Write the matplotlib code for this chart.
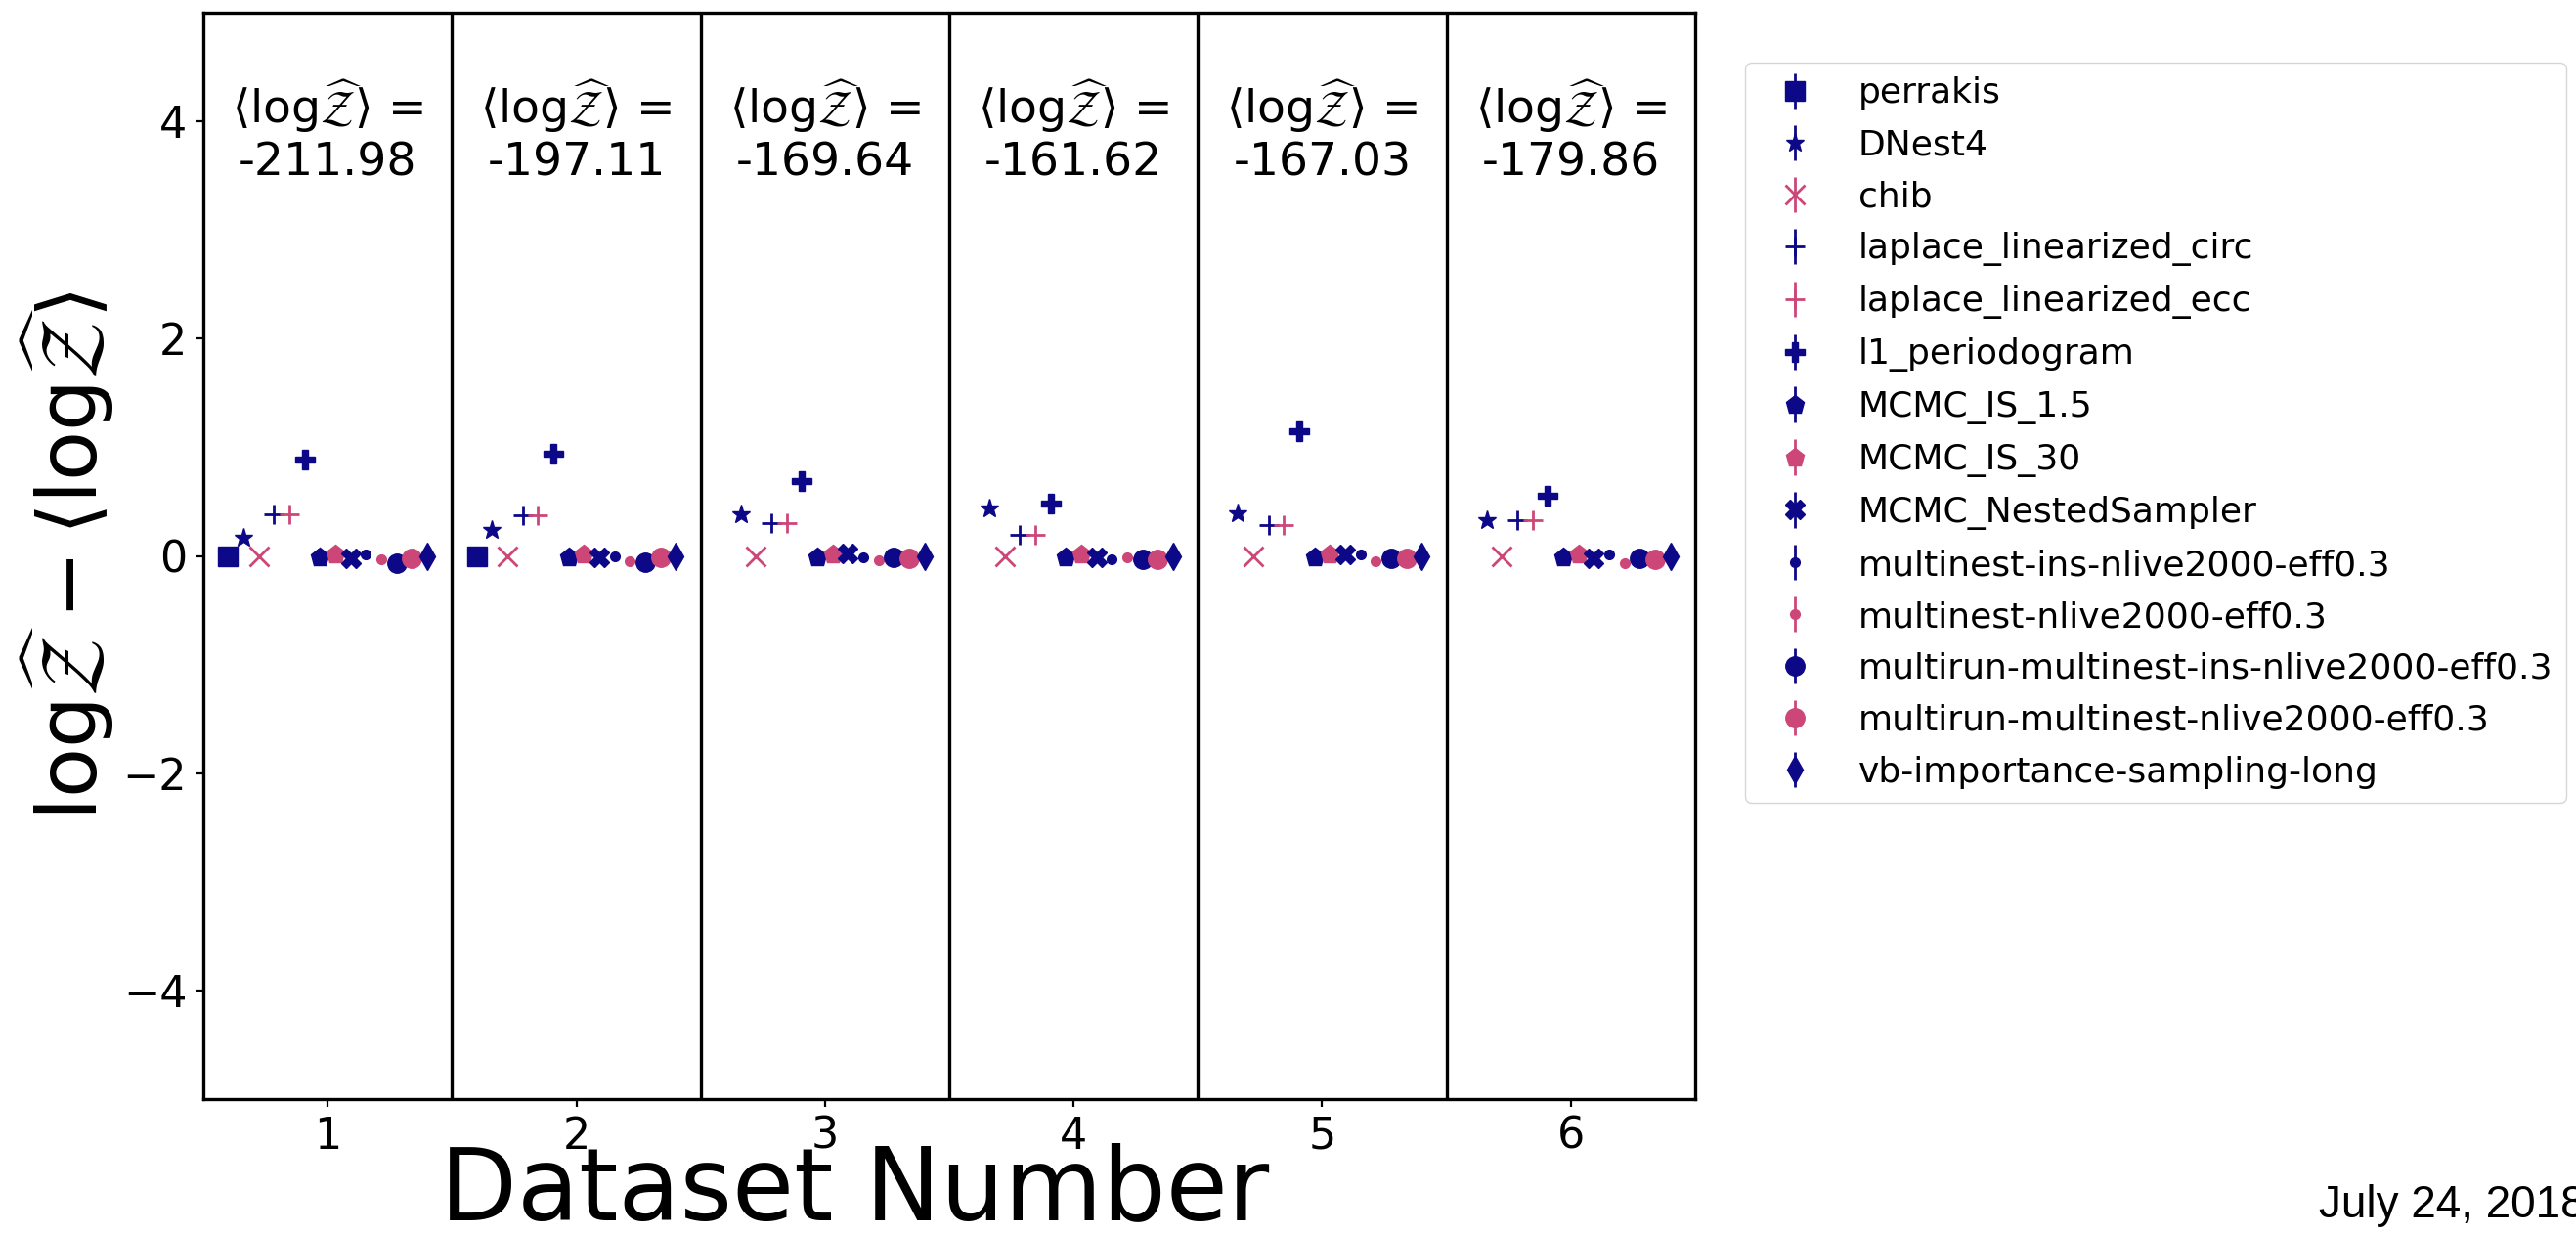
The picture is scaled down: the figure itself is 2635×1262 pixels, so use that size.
import numpy as np
import matplotlib
matplotlib.use("Agg")
import matplotlib.pyplot as plt

# ---------------- data ----------------
datasets = [1, 2, 3, 4, 5, 6]
mean_logz = [-211.98, -197.11, -169.64, -161.62, -167.03, -179.86]

methods = ["perrakis", "DNest4", "chib", "laplace_linearized_circ",
           "laplace_linearized_ecc", "l1_periodogram", "MCMC_IS_1.5",
           "MCMC_IS_30", "MCMC_NestedSampler", "multinest-ins-nlive2000-eff0.3",
           "multinest-nlive2000-eff0.3", "multirun-multinest-ins-nlive2000-eff0.3",
           "multirun-multinest-nlive2000-eff0.3", "vb-importance-sampling-long"]

nan = np.nan
perrakis   = [0.00, 0.00, nan, nan, nan, nan]
dnest4     = [0.17, 0.24, 0.38, 0.44, 0.39, 0.33]
chib       = [0.00, 0.00, 0.00, 0.00, 0.00, 0.00]
lap_circ   = [0.38, 0.37, 0.30, 0.19, 0.28, 0.33]
lap_ecc    = [0.38, 0.37, 0.30, 0.19, 0.28, 0.33]
l1_period  = [0.89, 0.94, 0.69, 0.48, 1.15, 0.55]
mcmc_is15  = [-0.01, -0.01, -0.01, -0.01, -0.01, -0.01]
mcmc_is30  = [0.01, 0.01, 0.01, 0.01, 0.01, 0.01]
mcmc_ns    = [-0.02, -0.015, 0.02, -0.01, 0.01, -0.02]
mn_ins     = [0.01, 0.00, -0.01, -0.03, 0.01, 0.01]
mn         = [-0.03, -0.05, -0.04, -0.01, -0.05, -0.07]
mr_ins     = [-0.07, -0.06, -0.01, -0.03, -0.02, -0.02]
mr         = [-0.02, -0.01, -0.02, -0.03, -0.02, -0.03]
vb         = [0.00, 0.00, 0.00, 0.00, 0.00, 0.00]

values = [perrakis, dnest4, chib, lap_circ, lap_ecc, l1_period, mcmc_is15,
          mcmc_is30, mcmc_ns, mn_ins, mn, mr_ins, mr, vb]
errors = [0.0] * len(methods)

NAVY = "#0d0887"
PINK = "#cc4778"
colors = [NAVY, NAVY, PINK, NAVY, PINK, NAVY, NAVY, PINK, NAVY, NAVY, PINK, NAVY, PINK, NAVY]
markers = ["s", "*", "x", "+", "+", "P", "p", "p", "X", ".", ".", "o", "o", "d"]

# ---------------- figure ----------------
W, H = 2635, 1262
fig = plt.figure(figsize=(W / 100, H / 100), dpi=100)
ax = fig.add_axes([208 / W, 1 - 1124 / H, (1734 - 208) / W, (1124 - 13) / H])

offsets = np.linspace(-0.4, 0.4, len(methods))
for k, (name, vals) in enumerate(zip(methods, values)):
    x = np.array(datasets, dtype=float) + offsets[k]
    unfilled = markers[k] in ("x", "+")
    ax.errorbar(x, vals, yerr=errors[k], fmt=markers[k], color=colors[k],
                ms=14, mew=2.0 if unfilled else 1.0, elinewidth=2.0,
                label=name, linestyle="none")

for b in range(len(datasets) - 1):
    ax.axvline(datasets[b] + 0.5, color="black", lw=2.4)

for d, m in zip(datasets, mean_logz):
    ax.text(d, 3.5, r"$\langle\mathrm{log}\widehat{\mathcal{Z}}\rangle$ =" + "\n" + f"{m:.2f}",
            ha="center", va="baseline", fontsize=34, multialignment="center",
            linespacing=1.2)

ax.set_xlim(0.5, 6.5)
ax.set_ylim(-5, 5)
ax.set_xticks(datasets)
ax.set_yticks([-4, -2, 0, 2, 4])
ax.tick_params(labelsize=32, length=6, width=1.6, pad=6)
for s in ax.spines.values():
    s.set_linewidth(2.4)

ax.set_xlabel("Dataset Number", fontsize=74, va="baseline")
ax.xaxis.set_label_coords((874 - 208) / 1526, -(1247 - 1124) / 1111)
ax.set_ylabel(r"$\mathrm{log}\widehat{\mathcal{Z}} - \langle\mathrm{log}\widehat{\mathcal{Z}}\rangle$",
              fontsize=60)
ax.yaxis.set_label_coords(-0.058, 0.5)

fig.legend(loc="upper left", bbox_to_anchor=(1785 / W, 1 - 64 / H),
           bbox_transform=fig.transFigure, borderaxespad=0, fontsize=26,
           numpoints=1, labelspacing=0.525)

fig.text(2372 / W, 1 - 1245 / H, "July 24, 2018", ha="left", va="baseline",
         fontsize=33, family="Liberation Sans")

fig.savefig("out.png", dpi=100)
